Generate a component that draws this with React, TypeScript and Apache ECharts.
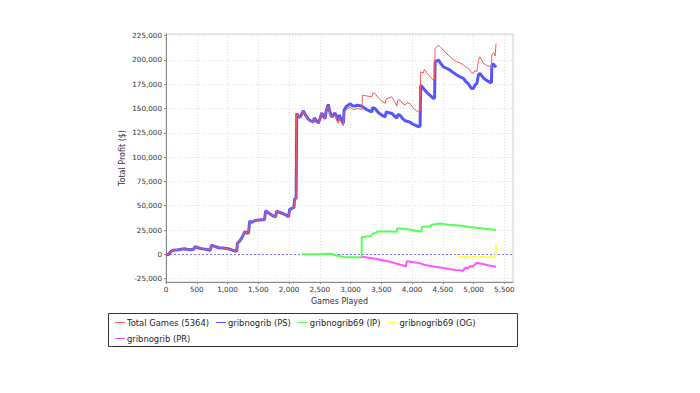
import React, { useEffect, useRef } from "react";
import * as echarts from "echarts";

// ---- data (games played, profit $) ----
const earlyProfit: [number, number][] = [
  [0, 0], [40, -500], [60, 1500], [90, 3500], [120, 4200], [200, 4800], [300, 5800], [340, 5200],
  [400, 4600], [450, 5200], [470, 7800], [520, 6800], [560, 6000], [600, 5600], [660, 5000], [720, 4200],
  [740, 9400], [800, 8000], [860, 6800], [920, 6500], [990, 6000], [1040, 5200], [1080, 4200], [1140, 3200],
  [1150, 3600], [1160, 11000], [1200, 14000], [1230, 16500], [1260, 20500], [1285, 23500], [1310, 22000],
  [1340, 21500], [1360, 34000], [1400, 33000], [1440, 34500], [1480, 35000], [1550, 35500], [1600, 35500],
  [1620, 45000], [1680, 42000], [1740, 39500], [1780, 38500], [1800, 44500], [1850, 43000], [1900, 42000],
  [1960, 40000], [1990, 38500], [2010, 46000], [2050, 47500], [2080, 48000], [2090, 57000], [2115, 57500],
  [2125, 145000], [2150, 142000], [2179, 141000],
];

const psLate: [number, number][] = [
  [2233, 147700], [2270, 143000], [2314, 139000], [2350, 137500], [2395, 136000], [2410, 140500],
  [2440, 138000], [2476, 135000], [2500, 139000], [2532, 145500], [2560, 142000], [2585, 139500],
  [2600, 146500], [2639, 154300], [2660, 147000], [2694, 141500], [2720, 143000], [2748, 145500],
  [2780, 140000], [2802, 137500], [2815, 143500], [2850, 138500], [2883, 135000], [2895, 148500],
  [2930, 152000], [2992, 155000], [3030, 153000], [3073, 152500], [3110, 153500], [3154, 153000],
  [3192, 152000], [3260, 149000], [3345, 146500], [3360, 151000], [3398, 150000], [3450, 146000],
  [3500, 143500], [3561, 141500], [3580, 146500], [3670, 145000], [3720, 142000], [3751, 140000],
  [3770, 144000], [3805, 143000], [3850, 139500], [3886, 137500], [3967, 136000], [4010, 134000],
  [4049, 133000], [4102, 131500], [4130, 132000], [4140, 174000], [4170, 172000], [4211, 168500],
  [4250, 166000], [4293, 163500], [4346, 160500], [4365, 161000], [4374, 198000], [4428, 200000],
  [4470, 196000], [4509, 193000], [4560, 191500], [4618, 189500], [4670, 187000], [4727, 184500],
  [4780, 182500], [4834, 181000], [4870, 178000], [4915, 175500], [4960, 171000], [4997, 170500],
  [5020, 174000], [5052, 176000], [5080, 185000], [5106, 186000], [5159, 181500], [5210, 179000],
  [5268, 177000], [5290, 176500], [5296, 194500], [5320, 196000], [5350, 193500], [5364, 192400],
];

const totalLate: [number, number][] = [
  [2206, 141600], [2233, 147500], [2270, 142500], [2314, 138800], [2350, 137300], [2395, 135800],
  [2410, 140300], [2440, 137800], [2476, 134800], [2500, 138800], [2532, 145300], [2560, 141800],
  [2585, 139300], [2600, 146000], [2639, 152600], [2660, 145500], [2694, 140500], [2720, 143000],
  [2748, 143500], [2780, 137500], [2802, 134800], [2815, 141000], [2850, 135500], [2883, 132300],
  [2895, 146000], [2930, 149000], [2992, 151500], [3030, 149500], [3073, 149000], [3110, 150000],
  [3154, 149500], [3185, 148500], [3192, 163900], [3260, 163000], [3345, 162100], [3360, 166000],
  [3398, 165500], [3450, 161000], [3500, 158000], [3561, 155300], [3580, 160000], [3670, 162100],
  [3720, 157000], [3751, 152500], [3770, 159000], [3805, 158700], [3850, 155000], [3886, 153600],
  [3920, 156000], [3967, 155000], [4010, 151000], [4049, 148500], [4102, 146700], [4130, 147500],
  [4140, 187900], [4180, 186500], [4200, 190000], [4211, 189600], [4250, 186000], [4293, 182700],
  [4346, 179300], [4365, 180000], [4374, 211900], [4428, 215300], [4470, 212500], [4509, 210200],
  [4560, 206500], [4618, 203300], [4670, 200500], [4727, 198100], [4780, 197000], [4834, 195000],
  [4870, 193000], [4915, 191400], [4960, 187500], [4997, 186200], [5020, 189000], [5052, 188000],
  [5080, 200000], [5106, 203300], [5159, 196500], [5210, 194500], [5268, 193000], [5290, 191500],
  [5296, 205000], [5320, 207500], [5340, 206800], [5350, 204000], [5364, 217000],
];

const ipProfit: [number, number][] = [
  [2206, 0], [2500, 200], [2700, 600], [2720, -500], [2800, -1500], [2883, -2800], [3000, -3000],
  [3180, -3100], [3182, 17500], [3300, 18500], [3340, 19000], [3350, 21000], [3420, 22500], [3430, 23500],
  [3600, 23500], [3750, 23300], [3760, 26700], [3900, 26000], [4000, 25000], [4150, 23300], [4160, 28400],
  [4200, 28500], [4300, 29000], [4310, 30500], [4455, 31800], [4600, 30500], [4800, 29300], [5000, 27600],
  [5200, 26200], [5364, 25000],
];

const ogProfit: [number, number][] = [
  [4715, 0], [4760, -2300], [5000, -2600], [5200, -2800], [5355, -3000], [5364, 10500],
];

const prProfit: [number, number][] = [
  [3182, -2400], [3400, -4500], [3642, -7600], [3880, -12000], [3900, -12700], [3915, -7200],
  [4000, -7800], [4130, -9300], [4211, -11000], [4400, -13000], [4600, -15000], [4699, -16100],
  [4780, -16500], [4834, -17000], [4850, -14500], [4880, -13500], [4900, -15000], [4943, -12000],
  [4980, -13000], [5052, -8600], [5150, -10000], [5250, -11500], [5364, -12700],
];

const seriesNames = [
  "Total Games (5364)",
  "gribnogrib (PS)",
  "gribnogrib69 (IP)",
  "gribnogrib69 (OG)",
  "gribnogrib (PR)",
];

const yTickValues = [-25000, 0, 25000, 50000, 75000, 100000, 125000, 150000, 175000, 200000, 225000];

const FONT = "DejaVu Sans";
const fmt = (v: number) => Math.round(v).toLocaleString("en-US");

export default function App() {
  const ref = useRef<HTMLDivElement>(null);

  useEffect(() => {
    if (!ref.current) return;
    const chart = echarts.init(ref.current, null, { renderer: "svg" });
    const lineBase = { type: "line", showSymbol: false, symbol: "none", silent: true };
    chart.setOption({
      animation: false,
      backgroundColor: "#ffffff",
      grid: {
        left: 166,
        right: 187,
        top: 34,
        bottom: 111,
        show: true,
        borderColor: "#cfcfcf",
        borderWidth: 1,
        backgroundColor: "#ffffff",
        containLabel: false,
        outerBoundsMode: "none",
      },
      graphic: [
        {
          type: "rect",
          shape: { x: 108.5, y: 313.5, width: 409, height: 33 },
          style: { fill: "none", stroke: "#333", lineWidth: 1 },
          silent: true,
          z: 10,
        },
      ],
      xAxis: {
        type: "value",
        min: 0,
        max: 5640,
        interval: 500,
        name: "Games Played",
        nameLocation: "middle",
        nameGap: 14,
        nameTextStyle: { fontFamily: FONT, fontSize: 8, color: "#333" },
        axisLine: { show: true, onZero: false, lineStyle: { color: "#888", width: 1 } },
        axisTick: { show: true, length: 2, lineStyle: { color: "#888" } },
        axisLabel: {
          fontFamily: FONT,
          fontSize: 7.2,
          color: "#333",
          margin: 4,
          showMaxLabel: false,
          formatter: (v: number) => fmt(v),
        },
        splitLine: { show: true, lineStyle: { color: "#dedede", type: [1, 2], width: 1 } },
      },
      yAxis: {
        type: "value",
        min: -28500,
        max: 226750,
        name: "Total Profit ($)",
        nameLocation: "middle",
        nameGap: 40,
        nameTextStyle: { fontFamily: FONT, fontSize: 8, color: "#333" },
        axisLine: { show: true, onZero: false, lineStyle: { color: "#888", width: 1 } },
        axisTick: { show: true, length: 2, lineStyle: { color: "#888" }, customValues: yTickValues },
        axisLabel: {
          fontFamily: FONT,
          fontSize: 7.2,
          color: "#333",
          margin: 4,
          customValues: yTickValues,
          formatter: (v: number) => fmt(v),
        },
        splitLine: { show: true, lineStyle: { color: "#dedede", type: [1, 2], width: 1 } },
      },
      legend: {
        data: seriesNames,
        left: 108,
        top: 313,
        width: 397,
        orient: "horizontal",
        padding: [5, 6, 4, 7],
        itemGap: 7,
        itemWidth: 10,
        itemHeight: 1,
        icon: "rect",
        align: "left",
        textStyle: { fontFamily: FONT, fontSize: 8.4, color: "#222", lineHeight: 9, padding: [0, 0, 0, -3] },
        selectedMode: false,
      },
      series: [
        {
          ...lineBase,
          name: seriesNames[0],
          z: 5,
          data: [...earlyProfit, ...totalLate],
          itemStyle: { color: "#FF5555" },
          lineStyle: { color: "#FF5555", width: 1 },
        },
        {
          ...lineBase,
          name: seriesNames[1],
          z: 3,
          data: [...earlyProfit, ...psLate],
          itemStyle: { color: "#5555FF" },
          lineStyle: { color: "#5555FF", width: 3 },
        },
        {
          ...lineBase,
          name: seriesNames[2],
          z: 4,
          data: ipProfit,
          itemStyle: { color: "#55FF55" },
          lineStyle: { color: "#55FF55", width: 2 },
          markLine: {
            silent: true,
            symbol: "none",
            label: { show: false },
            lineStyle: { color: "#7a7aff", type: [2, 2], width: 1 },
            data: [{ yAxis: 0 }],
            z: 2,
          },
        },
        {
          ...lineBase,
          name: seriesNames[3],
          z: 4,
          data: ogProfit,
          itemStyle: { color: "#FFFF55" },
          lineStyle: { color: "#FFFF55", width: 2 },
        },
        {
          ...lineBase,
          name: seriesNames[4],
          z: 4,
          data: prProfit,
          itemStyle: { color: "#FF55FF" },
          lineStyle: { color: "#FF55FF", width: 2 },
        },
      ],
    });
    return () => chart.dispose();
  }, []);

  return (
    <div
      ref={ref}
      style={{ position: "fixed", left: 0, top: 0, width: 700, height: 393, background: "#fff" }}
    />
  );
}
